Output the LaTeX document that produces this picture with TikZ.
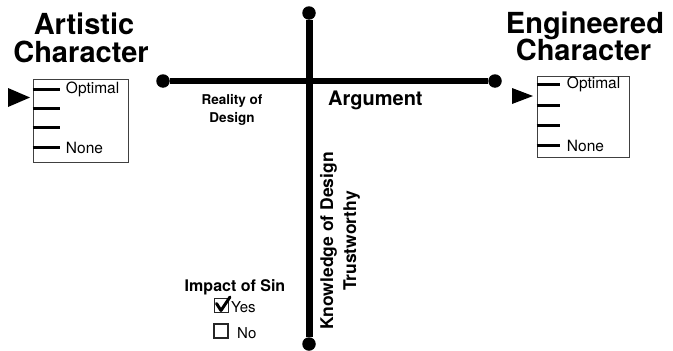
\documentclass[tikz,border=0pt]{standalone}
\usepackage{fontspec}
\setmainfont{TeX Gyre Heros}
\begin{document}
\begin{tikzpicture}[x=1pt,y=-1pt,
  ttl/.style={font=\fontsize{29}{30}\selectfont\bfseries, inner sep=0pt, anchor=base},
  lbl/.style={font=\fontsize{15.5}{16}\selectfont, inner sep=0pt, anchor=west},
  small/.style={font=\fontsize{13.5}{14}\selectfont\bfseries, inner sep=0pt, anchor=base},
  vtxt/.style={font=\fontsize{17.5}{18}\selectfont\bfseries, inner sep=0pt, anchor=base, rotate=90},
  scalebox/.style={draw=black!75, line width=0.9pt, rectangle, inner sep=0pt},
  tickmark/.style={line width=2.8pt},
  dot/.style={circle, fill=black, inner sep=0pt, minimum size=13.5pt},
  chk/.style={draw=black!85, line width=1.2pt, rectangle, inner sep=0pt, minimum size=14pt},
  opt/.style={font=\fontsize{15}{16}\selectfont, inner sep=0pt, anchor=base west}
]
\useasboundingbox (0,0) rectangle (673,351);

% titles
\node[ttl] (a1) at (84,34) {Artistic};
\node[ttl] (a2) at (81,62) {Character};
\node[ttl] (e1) at (585,33) {Engineered};
\node[ttl] (e2) at (583.5,60) {Character};

% left scale
\node[scalebox, minimum width=95pt, minimum height=83pt] (lbox) at (80.5,120.5) {};
\draw[tickmark] (lbox.north west) ++(0,11) -- ++(27,0) node[lbl, right=5pt] (lopt) {Optimal};
\draw[tickmark] (lbox.north west) ++(0,30) -- ++(27,0);
\draw[tickmark] (lbox.north west) ++(0,49) -- ++(27,0);
\draw[tickmark] (lbox.north west) ++(0,69) -- ++(27,0) node[lbl, right=5pt] (lnone) {None};
\fill (8,88) -- (30,97.5) -- (8,107) -- cycle;

% right scale
\node[scalebox, minimum width=92pt, minimum height=81pt] (rbox) at (583,116.5) {};
\draw[tickmark] (rbox.north west) ++(0,9) -- ++(23,0) node[lbl, right=6pt] (ropt) {Optimal};
\draw[tickmark] (rbox.north west) ++(0,30) -- ++(23,0);
\draw[tickmark] (rbox.north west) ++(0,50) -- ++(23,0);
\draw[tickmark] (rbox.north west) ++(0,70) -- ++(23,0) node[lbl, right=6pt] (rnone) {None};
\fill (512,88) -- (533,96) -- (512,104) -- cycle;

% cross
\node[dot] (hl) at (163,81) {};
\node[dot] (hr) at (495,81) {};
\node[dot] (vt) at (309,13) {};
\node[dot] (vb) at (309,344) {};
\draw[line width=5.5pt] (hl) -- (hr);
\draw[line width=7pt] (vt) -- (vb);

% axis labels
\node[small] (r1) at (232,104) {Reality of};
\node[small] (r2) at (232,122) {Design};
\node[font=\fontsize{20}{22}\selectfont\bfseries, inner sep=0pt, anchor=base west] (arg) at (328,105) {Argument};
\node[vtxt] (k1) at (333,241) {Knowledge of Design};
\node[vtxt] (k2) at (356,241) {Trustworthy};

% impact of sin
\node[font=\fontsize{16}{17}\selectfont\bfseries, inner sep=0pt, anchor=base] (imp) at (235,291) {Impact of Sin};
\node[chk] (cy) at (221.5,305.5) {};
\draw[line width=3pt, line cap=round, line join=round] (216.5,303.5) -- (221,310.5) -- (230,297);
\node[opt] (yes) at (231,312) {Yes};
\node[chk] (cn) at (221,331) {};
\node[opt] (no) at (237,338) {No};
\end{tikzpicture}
\end{document}
